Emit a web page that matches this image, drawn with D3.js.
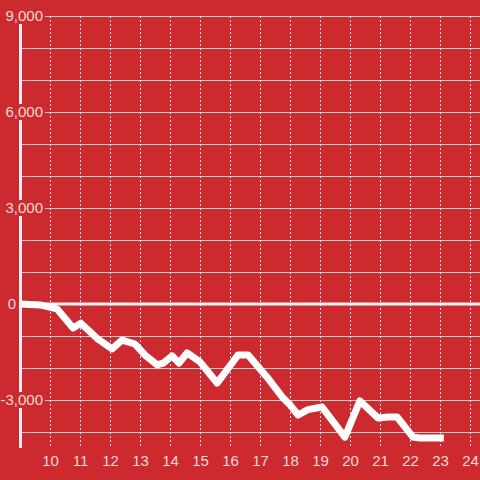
<!DOCTYPE html>
<html>
<head>
<meta charset="utf-8">
<script src="https://cdn.jsdelivr.net/npm/d3@7"></script>
<style>
html,body{margin:0;padding:0;background:#cc2a2f;}
svg{display:block;font-family:"Liberation Sans",Arial,sans-serif;}
</style>
</head>
<body>
<svg id="chart" width="480" height="480"></svg>
<script>
const times = [9.0, 9.67, 10.23, 10.77, 11.03, 11.6, 12.07, 12.4, 12.83, 13.17, 13.57, 13.77, 14.07, 14.3, 14.57, 15.0, 15.57, 16.27, 16.6, 17.23, 17.77, 18.0, 18.27, 18.6, 19.07, 19.83, 20.33, 20.93, 21.27, 21.57, 22.1, 22.33, 23.13];
const values = [0, -30, -150, -750, -600, -1100, -1400, -1130, -1250, -1600, -1900, -1850, -1620, -1850, -1530, -1810, -2470, -1590, -1590, -2280, -2940, -3150, -3470, -3300, -3220, -4160, -3030, -3560, -3530, -3530, -4160, -4190, -4190];
const xTicks = [10, 11, 12, 13, 14, 15, 16, 17, 18, 19, 20, 21, 22, 23, 24];
const yGrid = [-4000, -3000, -2000, -1000, 0, 1000, 2000, 3000, 4000, 5000, 6000, 7000, 8000, 9000];
const yLabels = [-3000, 0, 3000, 6000, 9000];

const svg = d3.select("#chart");
const W = 480, H = 480;
const x = d3.scaleLinear().domain([9, 24.3333]).range([20, 480]);
const y = d3.scaleLinear().domain([-4500, 9000]).range([448, 16]);

svg.append("rect").attr("width", W).attr("height", H).attr("fill", "#cc2a2f");

// horizontal gridlines
svg.append("g").selectAll("line").data(yGrid.filter(d => d !== 0)).join("line")
  .attr("x1", 22).attr("x2", 480)
  .attr("y1", d => Math.round(y(d)) + 0.5).attr("y2", d => Math.round(y(d)) + 0.5)
  .attr("stroke", "#d4cccc").attr("stroke-width", 1);

// vertical dotted gridlines
svg.append("g").selectAll("line").data(xTicks).join("line")
  .attr("x1", d => Math.round(x(d)) + 0.5).attr("x2", d => Math.round(x(d)) + 0.5)
  .attr("y1", 16).attr("y2", 448)
  .attr("stroke", "#e8dede").attr("stroke-width", 1).attr("stroke-dasharray", "2,2");

// zero line
svg.append("line").attr("x1", 22).attr("x2", 480)
  .attr("y1", y(0)).attr("y2", y(0))
  .attr("stroke", "#f2f2f2").attr("stroke-width", 3);

// data line
const line = d3.line().x((d, i) => x(times[i])).y(d => y(d));
svg.append("path").datum(values)
  .attr("d", line)
  .attr("fill", "none").attr("stroke", "#ffffff").attr("stroke-width", 7)
  .attr("stroke-linejoin", "round").attr("stroke-linecap", "butt");

// y axis line
svg.append("line").attr("x1", 20.5).attr("x2", 20.5)
  .attr("y1", 16).attr("y2", 448)
  .attr("stroke", "#f2f2f2").attr("stroke-width", 3);

// y labels with background
const fmt = v => d3.format(",")(v).replace("\u2212", "-");
const yl = svg.append("g");
yLabels.forEach(v => {
  const g = yl.append("g");
  const t = g.append("text")
    .attr("x", v === 0 ? 16 : 43)
    .attr("y", y(v))
    .attr("dy", "0.35em")
    .attr("text-anchor", "end")
    .attr("font-size", 15)
    .attr("fill", "#f5d8d8")
    .text(fmt(v));
  const b = t.node().getBBox();
  g.insert("rect", "text")
    .attr("x", b.x - 2).attr("y", y(v) - 8)
    .attr("width", b.width + 4).attr("height", 16)
    .attr("fill", "#cc2a2f");
});

// x labels
svg.append("g").selectAll("text").data(xTicks).join("text")
  .attr("x", d => x(d) + 0.5)
  .attr("y", 466)
  .attr("text-anchor", "middle")
  .attr("font-size", 15)
  .attr("fill", "#f5d8d8")
  .text(d => d);
</script>
</body>
</html>
